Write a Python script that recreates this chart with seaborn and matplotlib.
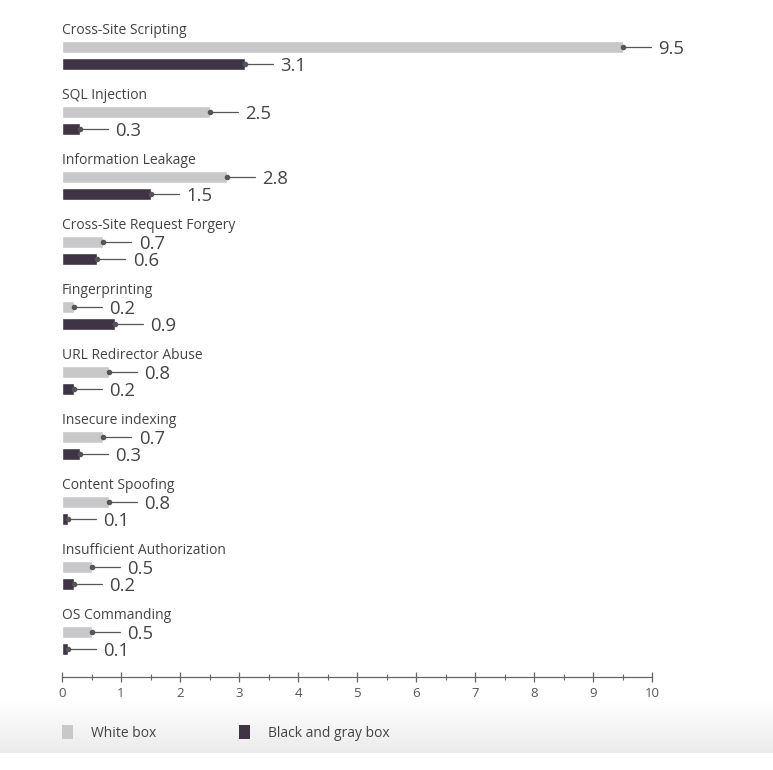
import numpy as np
import pandas as pd
import matplotlib
matplotlib.use("Agg")
import matplotlib.pyplot as plt
import seaborn as sns
from matplotlib.patches import Patch

categories = ["Cross-Site Scripting", "SQL Injection", "Information Leakage",
              "Cross-Site Request Forgery", "Fingerprinting", "URL Redirector Abuse",
              "Insecure indexing", "Content Spoofing", "Insufficient Authorization",
              "OS Commanding"]
white_box = [9.5, 2.5, 2.8, 0.7, 0.2, 0.8, 0.7, 0.8, 0.5, 0.5]
black_gray_box = [3.1, 0.3, 1.5, 0.6, 0.9, 0.2, 0.3, 0.1, 0.2, 0.1]
series_names = ["White box", "Black and gray box"]
x_ticks = [0, 1, 2, 3, 4, 5, 6, 7, 8, 9, 10]

colors = {"White box": "#c8c7c9", "Black and gray box": "#3f3445"}
text_color = "#444444"

df = pd.DataFrame({
    "category": categories * 2,
    "value": white_box + black_gray_box,
    "series": [series_names[0]] * len(categories) + [series_names[1]] * len(categories),
})

sns.set_theme(style="white")
plt.rcParams["font.family"] = ["Open Sans", "DejaVu Sans"]

W, H = 773, 770
fig = plt.figure(figsize=(W / 100, H / 100), dpi=100)
fig.patch.set_facecolor("white")

# background gradient band behind the legend
bg = fig.add_axes([0, 1 - 753 / H, 1, (753 - 702) / H], zorder=0)
grad = np.linspace(0.0, 1.0, 100).reshape(-1, 1)
cmap = matplotlib.colors.LinearSegmentedColormap.from_list("g", ["#ffffff", "#ebebeb"])
bg.imshow(grad, aspect="auto", cmap=cmap, vmin=0, vmax=1,
          extent=[0, 1, 0, 1], origin="upper")
bg.set_axis_off()

left = 62 / W
right = 652 / W
top_px, bottom_px = 10, 677
ax = fig.add_axes([left, 1 - bottom_px / H, right - left, (bottom_px - top_px) / H], zorder=1)
ax.patch.set_alpha(0)

sns.barplot(data=df, y="category", x="value", hue="series", orient="h",
            palette=colors, width=0.523, gap=0.3, dodge=True, ax=ax,
            legend=False, saturation=1, errorbar=None)

ax.set_xlim(0, 10)
ax.set_ylim(9.5615, -0.7)

# annotations: dot + leader line + value
dot_color = "#555555"
for cont in ax.containers:
    for bar in cont:
        w = bar.get_width()
        yc = bar.get_y() + bar.get_height() / 2
        ax.plot([w, w + 0.475], [yc, yc], color="#555555", lw=0.9, zorder=3)
        ax.plot([w], [yc], marker="o", ms=3, color=dot_color, zorder=4)
        ax.text(w + 0.6, yc + 0.03, f"{w:.1f}", va="center", ha="left",
                fontsize=13.3, color=text_color)

for i, c in enumerate(categories):
    ax.text(0, i - 0.39, c, va="center", ha="left", fontsize=10, color=text_color)

for s in ["top", "right", "left"]:
    ax.spines[s].set_visible(False)
ax.spines["bottom"].set_color("#666666")
ax.spines["bottom"].set_linewidth(0.9)
ax.set_yticks([])
ax.set_ylabel("")
ax.set_xlabel("")
ax.set_xticks(x_ticks)
ax.set_xticklabels([str(t) for t in x_ticks])
ax.set_xticks(np.arange(0.5, 10, 1), minor=True)
ax.tick_params(axis="x", which="major", direction="inout", length=7, width=0.9,
               color="#666666", labelsize=9.5, labelcolor="#555555", pad=4, bottom=True)
ax.tick_params(axis="x", which="minor", direction="inout", length=4, width=0.8,
               color="#666666", bottom=True)

handles = [Patch(facecolor=colors[n], edgecolor="none") for n in series_names]
fig.legend(handles, series_names, loc="center left",
           bbox_to_anchor=(62 / W, 1 - 733 / H), ncol=2, frameon=False,
           borderpad=0, borderaxespad=0,
           handlelength=0.82, handleheight=1.15, handletextpad=1.3,
           columnspacing=5.9, fontsize=10, labelcolor=text_color)

fig.savefig("out.png", dpi=100, facecolor="white")
